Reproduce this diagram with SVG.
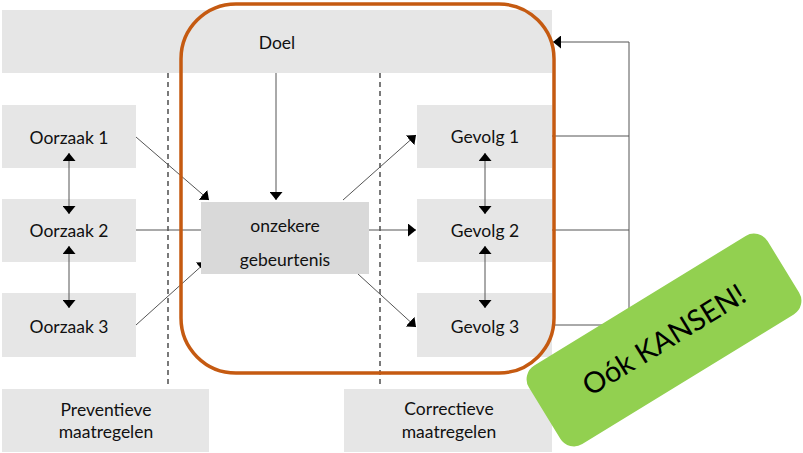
<svg xmlns="http://www.w3.org/2000/svg" width="803" height="453" viewBox="0 0 803 453">
<defs>
<marker id="ah" markerUnits="userSpaceOnUse" viewBox="0 0 8 13" markerWidth="8" markerHeight="13" refX="8" refY="6.5" orient="auto-start-reverse">
<path d="M0,0 L8,6.5 L0,13 z" fill="#000"/>
</marker>
</defs>
<style>
.box{fill:#e6e6e6}
.t{font-family:Lato,"Liberation Sans",sans-serif;font-size:17.5px;fill:#111;text-anchor:middle}
.c{fill:none;stroke:#555;stroke-width:1}
.dash{stroke:#222;stroke-width:1.2;stroke-dasharray:5,4}
</style>
<g id="doel"><rect class="box" x="2" y="10" width="550" height="63"/><text class="t" x="277" y="49">Doel</text></g>
<g id="oorzaak1"><rect class="box" x="2" y="105" width="134" height="63"/><text class="t" x="69" y="144">Oorzaak 1</text></g>
<g id="oorzaak2"><rect class="box" x="2" y="199" width="134" height="63"/><text class="t" x="69" y="237">Oorzaak 2</text></g>
<g id="oorzaak3"><rect class="box" x="2" y="293" width="134" height="64"/><text class="t" x="69" y="333">Oorzaak 3</text></g>
<g id="gevolg1"><rect class="box" x="417" y="105" width="135" height="63"/><text class="t" x="485" y="143">Gevolg 1</text></g>
<g id="gevolg2"><rect class="box" x="417" y="199" width="135" height="63"/><text class="t" x="485" y="237">Gevolg 2</text></g>
<g id="gevolg3"><rect class="box" x="417" y="293" width="135" height="64"/><text class="t" x="485" y="333">Gevolg 3</text></g>
<g id="preventief"><rect class="box" x="2" y="389" width="207" height="63"/><text class="t" x="106" y="416">Preventieve</text><text class="t" x="106" y="438">maatregelen</text></g>
<g id="correctief"><rect class="box" x="344" y="389" width="208" height="63"/><text class="t" x="449" y="415">Correctieve</text><text class="t" x="449" y="438">maatregelen</text></g>
<g id="scheiding">
<line class="dash" x1="168" y1="73" x2="168" y2="388"/>
<line class="dash" x1="380" y1="73" x2="380" y2="388"/>
</g>
<g id="connectors">
<line class="c" x1="276" y1="73" x2="276" y2="200" marker-end="url(#ah)"/>
<line class="c" x1="136" y1="137" x2="209" y2="200" marker-end="url(#ah)"/>
<line class="c" x1="136" y1="230" x2="209" y2="230" marker-end="url(#ah)"/>
<line class="c" x1="136" y1="325" x2="206" y2="262" marker-end="url(#ah)"/>
<line class="c" x1="343" y1="200" x2="416" y2="135" marker-end="url(#ah)"/>
<line class="c" x1="369" y1="230" x2="416" y2="230" marker-end="url(#ah)"/>
<line class="c" x1="358" y1="274" x2="416" y2="327" marker-end="url(#ah)"/>
<line class="c" x1="69" y1="153" x2="69" y2="214" marker-start="url(#ah)" marker-end="url(#ah)"/>
<line class="c" x1="69" y1="246" x2="69" y2="308" marker-start="url(#ah)" marker-end="url(#ah)"/>
<line class="c" x1="485" y1="153" x2="485" y2="214" marker-start="url(#ah)" marker-end="url(#ah)"/>
<line class="c" x1="485" y1="246" x2="485" y2="308" marker-start="url(#ah)" marker-end="url(#ah)"/>
<line class="c" x1="552" y1="136" x2="629" y2="136"/>
<line class="c" x1="552" y1="230" x2="629" y2="230"/>
<line class="c" x1="552" y1="325" x2="629" y2="325"/>
<polyline class="c" points="629,325 629,42 553,42" marker-end="url(#ah)"/>
</g>
<g id="gebeurtenis"><rect x="201" y="202" width="168" height="72" fill="#d9d9d9"/><text class="t" x="285" y="232">onzekere</text><text class="t" x="285" y="266">gebeurtenis</text></g>
<g id="kader"><rect x="181" y="4" width="373" height="369" rx="55" ry="55" fill="none" stroke="#c55a11" stroke-width="3.5"/></g>
<g id="kansen" transform="translate(664,340) rotate(-31.5)">
<rect x="-140" y="-46" width="280" height="92" rx="16" ry="16" fill="#92d050"/>
<text x="0" y="10" font-family="Lato,'Liberation Sans',sans-serif" font-size="29" fill="#000" text-anchor="middle">Oók KANSEN!</text>
</g>
</svg>
